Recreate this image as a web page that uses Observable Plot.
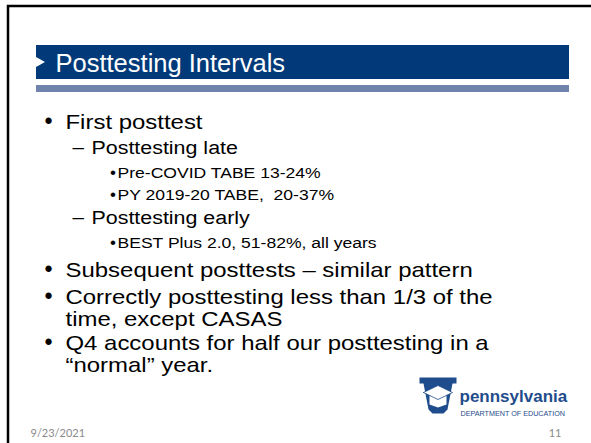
<!DOCTYPE html>
<html><head><meta charset="utf-8">
<script src="https://cdn.jsdelivr.net/npm/d3@7"></script>
<script src="https://cdn.jsdelivr.net/npm/@observablehq/plot@0.6"></script>
<style>html,body{margin:0;padding:0;background:#fff;overflow:hidden}</style>
</head><body><div id="chart"></div>
<script>
// ---- content ----
const titleText = "Posttesting Intervals";
const lineTexts = [
  "First posttest",
  "Posttesting late",
  "Pre-COVID TABE 13-24%",
  "PY 2019-20 TABE,  20-37%",
  "Posttesting early",
  "BEST Plus 2.0, 51-82%, all years",
  "Subsequent posttests – similar pattern",
  "Correctly posttesting less than 1/3 of the",
  "time, except CASAS",
  "Q4 accounts for half our posttesting in a",
  "“normal” year."
];
const lineLevels = [1, 2, 3, 3, 2, 3, 1, 1, 1, 1, 1];
const lineBulleted = [true, true, true, true, true, true, true, true, false, true, false];
const footerDate = "9/23/2021";
const pageNumber = "11";
const logoName = "pennsylvania";
const logoDept = "DEPARTMENT OF EDUCATION";

// ---- layout ----
const baselines = [128, 153, 177, 199, 223, 247, 276, 303, 325, 349, 371];
const levelStyle = {
  1: {marker: "•", mx: 44, tx: 65, size: 21},
  2: {marker: "–", mx: 72, tx: 91, size: 18.8},
  3: {marker: "•", mx: 109.5, tx: 117, size: 15.4}
};
const STRETCH = 1.14; // slide text is rendered horizontally widened
const FONT = "'Liberation Sans', Arial, Helvetica, sans-serif";
const NAVY = "#023a79";
const LOGO = "#1f4c8c";

const rows = lineTexts.map((t, i) => {
  const s = levelStyle[lineLevels[i]];
  return {text: t, marker: lineBulleted[i] ? s.marker : "", mx: s.mx, tx: s.tx, size: s.size, y: baselines[i]};
});

const triangle = [{x: 36, y1: 57, y2: 67}, {x: 45, y1: 62, y2: 62}];
const keystone = [[419,377],[456,377],[456,383],[452,383],[447,409],[443,413],[432,413],[428,409],[423,383],[419,383],[419,377]].map(([x,y]) => ({x, y}));
const capBase = [[429,395],[446,395],[446,404],[437.5,407],[429,404],[429,395]].map(([x,y]) => ({x, y}));
const capTop = [[423,392],[437.5,385],[452,392],[437.5,399],[423,392]].map(([x,y]) => ({x, y}));

const textMarks = [];
for (const r of rows) {
  if (r.marker) textMarks.push(Plot.text([r], {x: "mx", y: "y", text: "marker", textAnchor: "start", lineAnchor: "bottom", fontSize: r.size * 1.1, fontFamily: FONT, fill: "#000"}));
  textMarks.push(Plot.text([r], {x: "tx", y: "y", text: "text", textAnchor: "start", lineAnchor: "bottom", fontSize: r.size, fontFamily: FONT, fill: "#000", className: "bodytext"}));
}

const chart = Plot.plot({
  width: 591, height: 443, margin: 0,
  x: {domain: [0, 591], range: [0, 591], axis: null},
  y: {domain: [0, 443], range: [0, 443], axis: null},
  style: {background: "#fff"},
  marks: [
    Plot.rect([{}], {x1: 8, y1: 6, x2: 600, y2: 460, fill: "none", stroke: "#000", strokeWidth: 2.5}),
    Plot.rect([{}], {x1: 36, x2: 569, y1: 45, y2: 79, fill: NAVY}),
    Plot.rect([{}], {x1: 36, x2: 569, y1: 85, y2: 92, fill: "#6f83ad"}),
    Plot.areaY(triangle, {x: "x", y1: "y1", y2: "y2", fill: "#fff"}),
    Plot.text([{t: titleText}], {x: () => 55, y: () => 71, text: "t", textAnchor: "start", lineAnchor: "bottom", fontSize: 25.5, fontFamily: FONT, fill: "#fff"}),
    ...textMarks,
    Plot.text([{t: footerDate}], {x: () => 30, y: () => 436, text: "t", textAnchor: "start", lineAnchor: "bottom", fontSize: 11, fontFamily: "Lato, 'Open Sans', sans-serif", fill: "#8a8a8a"}),
    Plot.text([{t: pageNumber}], {x: () => 561, y: () => 436, text: "t", textAnchor: "end", lineAnchor: "bottom", fontSize: 11, fontFamily: "Lato, 'Open Sans', sans-serif", fill: "#8a8a8a"}),
    Plot.line(keystone, {x: "x", y: "y", fill: LOGO, stroke: "none"}),
    Plot.line(capBase, {x: "x", y: "y", fill: "#fff", stroke: "none"}),
    Plot.line(capTop, {x: "x", y: "y", fill: "#fff", stroke: LOGO, strokeWidth: 0.8}),
    Plot.text([{t: logoName}], {x: () => 459, y: () => 401, text: "t", textAnchor: "start", lineAnchor: "bottom", fontSize: 17, fontWeight: "bold", fontFamily: FONT, fill: LOGO}),
    Plot.text([{t: logoDept}], {x: () => 460, y: () => 415, text: "t", textAnchor: "start", lineAnchor: "bottom", fontSize: 7.2, fontFamily: FONT, fill: LOGO})
  ]
});
document.getElementById("chart").append(chart);
// widen body text glyphs to match the slide's horizontal proportion
chart.querySelectorAll(".bodytext text").forEach(el => {
  const len = el.getComputedTextLength();
  if (len > 0) {
    el.setAttribute("textLength", (len * STRETCH).toFixed(2));
    el.setAttribute("lengthAdjust", "spacingAndGlyphs");
  }
});
</script>
</body></html>
